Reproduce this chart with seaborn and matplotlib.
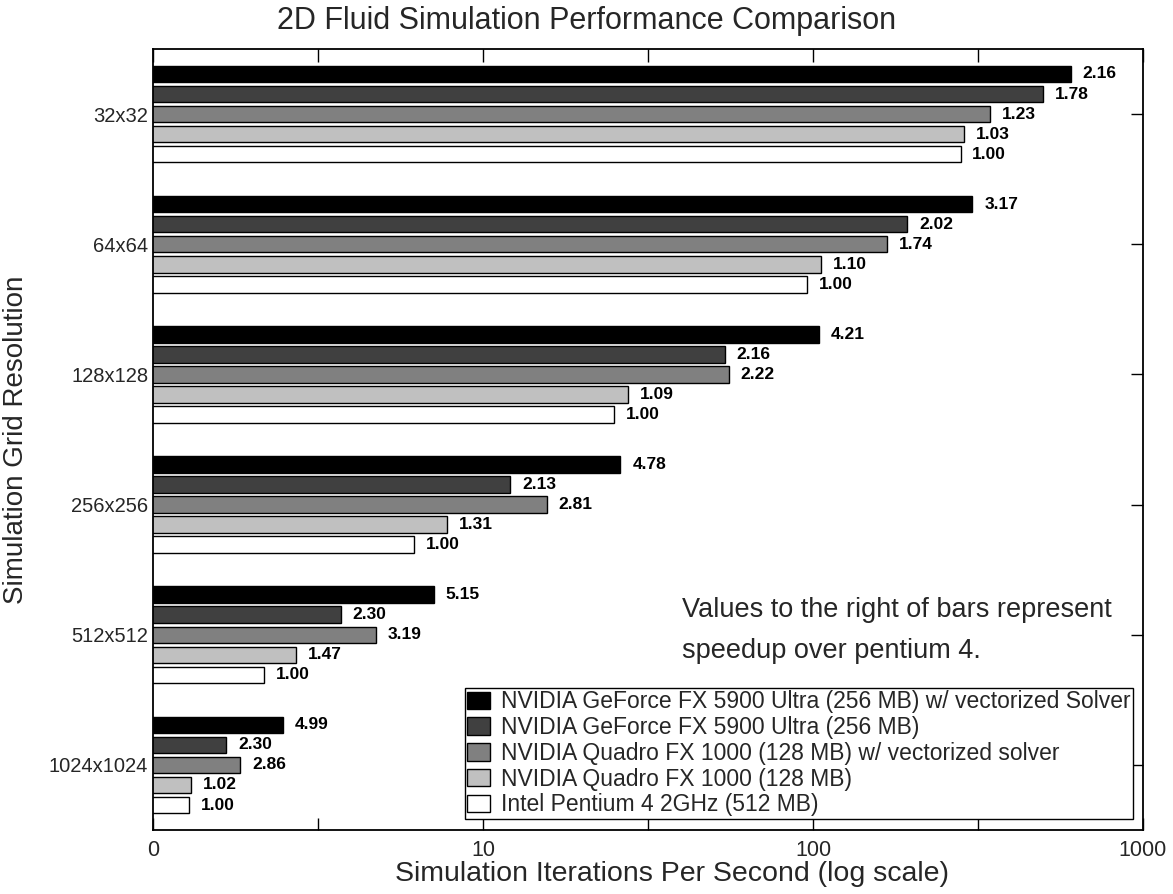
import numpy as np
import pandas as pd
import matplotlib
matplotlib.use("Agg")
import matplotlib.pyplot as plt
import seaborn as sns
from matplotlib.ticker import FixedLocator, NullFormatter

# データ
resolutions = ["32x32", "64x64", "128x128", "256x256", "512x512", "1024x1024"]
devices = [
    "NVIDIA GeForce FX 5900 Ultra (256 MB) w/ vectorized Solver",
    "NVIDIA GeForce FX 5900 Ultra (256 MB)",
    "NVIDIA Quadro FX 1000 (128 MB) w/ vectorized solver",
    "NVIDIA Quadro FX 1000 (128 MB)",
    "Intel Pentium 4 2GHz (512 MB)",
]
colors = ["#000000", "#404040", "#808080", "#c0c0c0", "#ffffff"]

# 反復回数/秒
geforce_vec = [604, 304, 104, 26.1, 7.08, 2.48]
geforce = [497, 193, 54, 12.1, 3.70, 1.67]
quadro_vec = [343, 168, 55.5, 15.6, 4.75, 1.84]
quadro = [286, 106, 27.6, 7.8, 2.72, 1.30]
pentium = [280, 96, 25, 6.2, 2.17, 1.29]

# Pentium 4 に対する速度向上（バー右側の表示値）
speedup_geforce_vec = ["2.16", "3.17", "4.21", "4.78", "5.15", "4.99"]
speedup_geforce = ["1.78", "2.02", "2.16", "2.13", "2.30", "2.30"]
speedup_quadro_vec = ["1.23", "1.74", "2.22", "2.81", "3.19", "2.86"]
speedup_quadro = ["1.03", "1.10", "1.09", "1.31", "1.47", "1.02"]
speedup_pentium = ["1.00", "1.00", "1.00", "1.00", "1.00", "1.00"]

series = [geforce_vec, geforce, quadro_vec, quadro, pentium]
speedups = [speedup_geforce_vec, speedup_geforce, speedup_quadro_vec,
            speedup_quadro, speedup_pentium]

rows = []
for dev, vals in zip(devices, series):
    for res, v in zip(resolutions, vals):
        rows.append({"resolution": res, "device": dev, "ips": v})
df = pd.DataFrame(rows)

sns.set_style("ticks")
plt.rcParams["font.family"] = ["Liberation Sans", "DejaVu Sans"]

fig = plt.figure(figsize=(11.73, 8.94), dpi=100)
ax = fig.add_axes([153 / 1173, 1 - 830 / 894, 990 / 1173, 781 / 894])

sns.barplot(
    data=df, y="resolution", x="ips", hue="device",
    order=resolutions, hue_order=devices,
    palette=dict(zip(devices, colors)), saturation=1,
    orient="h", width=0.77, gap=0.18,
    edgecolor="black", linewidth=1.0,
    errorbar=None, ax=ax,
)
# 対数軸（バーは0から描画し、左端でクリップ）
ax.set_xscale("log")

# 速度向上ラベル
for cont, labs in zip(ax.containers, speedups):
    ax.bar_label(cont, labels=labs, padding=8.5, fontsize=12.5,
                 fontweight="bold", color="black")

ax.set_xlim(1, 1000)
ax.set_ylim(5.5, -0.5)
ax.set_xticks([1, 10, 100, 1000])
ax.set_xticklabels(["0", "10", "100", "1000"])
ax.xaxis.set_minor_locator(FixedLocator([10 ** 0.5, 10 ** 1.5, 10 ** 2.5]))
ax.xaxis.set_minor_formatter(NullFormatter())
ax.tick_params(axis="both", which="both", direction="in", top=True,
               right=True, length=9, width=1, color="black")
ax.tick_params(axis="x", labelsize=15.5, pad=7)
ax.tick_params(axis="y", labelsize=14.5)

for sp in ax.spines.values():
    sp.set_visible(True)
    sp.set_color("black")
    sp.set_linewidth(1.3)

ax.set_xlabel("Simulation Iterations Per Second (log scale)", fontsize=20.5)
ax.xaxis.set_label_coords((672 - 153) / 990, -0.04, transform=ax.transAxes)
ax.xaxis.label.set_va("top")
ax.set_ylabel("Simulation Grid Resolution", fontsize=20)
ax.yaxis.set_label_coords(-0.125, 0.5)
fig.suptitle("2D Fluid Simulation Performance Comparison", fontsize=22,
             x=0.5, y=1 - 21 / 894, va="center")

ax.text(0.534, 0.256,
        "Values to the right of bars represent\nspeedup over pentium 4.",
        transform=ax.transAxes, fontsize=19.5, va="center", ha="left",
        linespacing=1.75)

leg = ax.legend(loc="lower right", bbox_to_anchor=(0.99, 0.014),
                fontsize=16.5, frameon=True, fancybox=False,
                edgecolor="black", framealpha=1, borderaxespad=0,
                handlelength=1.0, handleheight=0.8, labelspacing=0.12,
                borderpad=0.12, handletextpad=0.45)
leg.get_frame().set_linewidth(1.0)

fig.savefig("out.png", dpi=100)
